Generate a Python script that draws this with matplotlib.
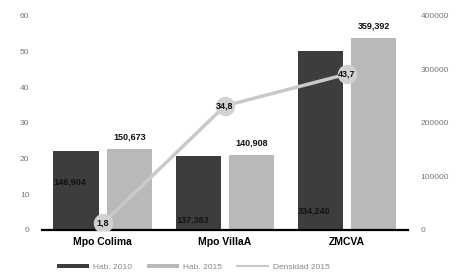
import matplotlib
matplotlib.use('Agg')
import matplotlib.pyplot as plt
from matplotlib.lines import Line2D
import numpy as np

plt.rcParams['font.family'] = ['Liberation Sans', 'DejaVu Sans']

# data
categories = ['Mpo Colima', 'Mpo VillaA', 'ZMCVA']
hab_2010 = [146904, 137383, 334240]
hab_2015 = [150673, 140908, 359392]
densidad_2015 = [1.8, 34.8, 43.7]
labels_2010 = ['146,904', '137,383', '334,240']
labels_2015 = ['150,673', '140,908', '359,392']
labels_dens = ['1,8', '34,8', '43,7']
left_ticks = [0, 10, 20, 30, 40, 50, 60]
right_ticks = [0, 100000, 200000, 300000, 400000]

dark = '#3b3e3c'
light = '#b9b9b9'
line_col = '#c9c9c9'

fig = plt.figure(figsize=(4.6, 2.8), dpi=100)
ax = fig.add_axes([0.091, 0.179, 0.796, 0.764])
ax2 = ax.twinx()

x = np.arange(len(categories))
w = 0.375
gap = 0.03
b1 = ax.bar(x - w / 2 - gap, hab_2010, w, color=dark, label='Hab. 2010', zorder=2)
b2 = ax.bar(x + w / 2 + gap, hab_2015, w, color=light, label='Hab. 2015', zorder=2)
ax.set_ylim(0, 400000)
ax.set_xlim(-0.5, 2.5)
ax.yaxis.tick_right()
ax.yaxis.set_label_position('right')
ax.set_yticks(right_ticks)
ax.set_yticklabels([str(t) for t in right_ticks])
ax.tick_params(axis='y', length=0, pad=9, labelsize=6, labelcolor='#777777')
ax.set_xticks(x)
ax.set_xticklabels(categories, fontweight='bold', fontsize=7.5)
ax.tick_params(axis='x', length=0, pad=5)
for s in ['top', 'left', 'right']:
    ax.spines[s].set_visible(False)
ax.spines['bottom'].set_linewidth(1.6)
ax.spines['bottom'].set_zorder(5)

# bar labels
pos_2010 = [0.55, 0.08, 0.08]
for i, r in enumerate(b1):
    h = r.get_height()
    ax.text(r.get_x() + r.get_width() / 2 - 0.05, h * pos_2010[i], labels_2010[i],
            ha='center', va='bottom', fontsize=6.5, fontweight='bold', color='#111111', zorder=6)
for i, r in enumerate(b2):
    h = r.get_height()
    ax.text(r.get_x() + r.get_width() / 2, h + 14000, labels_2015[i],
            ha='center', va='bottom', fontsize=6.5, fontweight='bold', color='#111111', zorder=6)

# density line on second axis, ticks on the left
ax2.yaxis.tick_left()
ax2.yaxis.set_label_position('left')
ax2.plot(x, densidad_2015, color=line_col, lw=2.5, marker='o', markersize=13,
         markerfacecolor='#d2d2d2', markeredgecolor='#d2d2d2', zorder=3)
for i, v in enumerate(densidad_2015):
    ax2.text(x[i], v, labels_dens[i], ha='center', va='center', fontsize=6.5,
             fontweight='bold', color='#111111', zorder=6)
ax2.set_ylim(0, 60)
ax2.set_yticks(left_ticks)
ax2.tick_params(axis='y', length=0, pad=9, labelsize=6, labelcolor='#777777')
for s in ['top', 'left', 'right', 'bottom']:
    ax2.spines[s].set_visible(False)

ln = Line2D([], [], color=line_col, lw=1.5, label='Densidad 2015')
fig.legend(handles=[b1, b2, ln], loc='center', bbox_to_anchor=(0.42, 0.045), ncol=3,
           frameon=False, fontsize=6, handlelength=3.8, handleheight=0.5,
           columnspacing=1.8, handletextpad=0.5, labelcolor='#888888')

fig.savefig('out.png', dpi=100)
